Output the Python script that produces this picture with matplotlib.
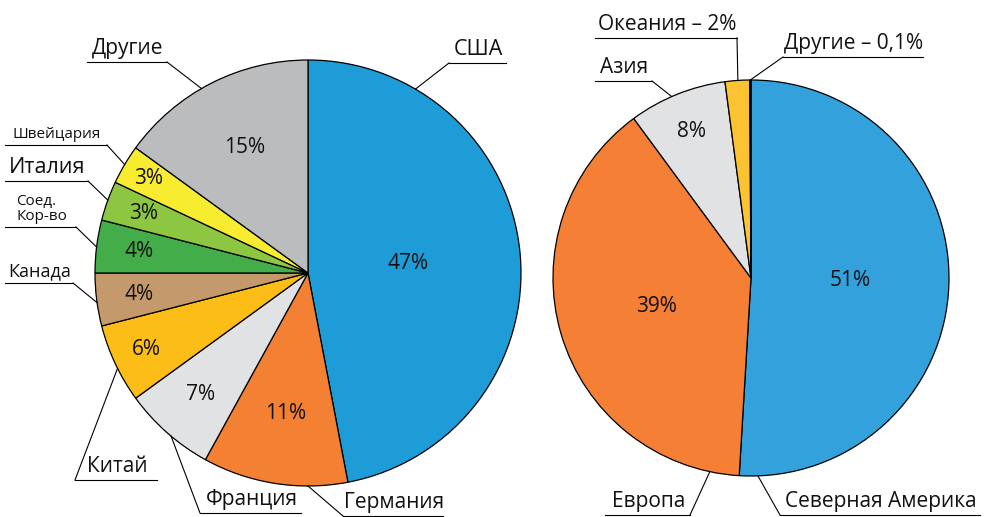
import numpy as np
import matplotlib.pyplot as plt

plt.rcParams['font.family'] = ['Open Sans', 'DejaVu Sans']

W, H = 985, 517

# left pie: countries
countries = ['США', 'Германия', 'Франция', 'Китай', 'Канада',
             'Соед.\nКор-во', 'Италия', 'Швейцария', 'Другие']
country_share = [47, 11, 7, 6, 4, 4, 3, 3, 15]
country_colors = ['#1e9cd8', '#f48033', '#e1e2e4', '#fcbd16', '#c49a6c',
                  '#43ad4a', '#8dc640', '#f8ec31', '#bbbcbe']
country_pct_r = [0.47, 0.67, 0.76, 0.84, 0.80, 0.80, 0.82, 0.87, 0.66]

# right pie: regions
regions = ['Северная Америка', 'Европа', 'Азия', 'Океания', 'Другие']
region_share = [51, 39, 8, 2, 0.1]
region_colors = ['#33a2dc', '#f47f35', '#e1e2e4', '#fdc231', '#a7a9ac']
region_pct_r = [0.50, 0.50, 0.80, None, None]

# callout layout: text, underline x0, x1, y (px from top), anchor angle,
# which underline end joins the leader, font size
left_callouts = [
    ('США', 449, 506, 63, 59.7, 'left', 15.5),
    ('Германия', 343, 443, 516, -90.0, 'left', 15),
    ('Франция', 200, 301, 513, -130.0, 'left', 15),
    ('Китай', 75, 157, 480, -153.4, 'left', 15),
    ('Канада', 5, 73, 283, -172.0, 'right', 13),
    ('Соед.\nКор-во', 5, 76, 227, 173.0, 'right', 11),
    ('Италия', 5, 88, 181, 160.0, 'right', 15.5),
    ('Швейцария', 5, 107, 145, 149.4, 'right', 11),
    ('Другие', 87, 167, 62, 120.0, 'right', 15),
]
right_callouts = [
    ('Северная Америка', 780, 980, 515, -88.0, 'left', 15),
    ('Европа', 605, 690, 515, -102.0, 'right', 15),
    ('Азия', 595, 652, 81, 113.6, 'right', 15),
    ('Океания – 2%', 595, 737, 38, 93.8, 'right', 15),
    ('Другие – 0,1%', 783, 923, 57, 90.2, 'left', 15),
]


def Y(y):
    return H - y


def draw_pie(ax, values, colors, center, radius, pct_r):
    wedges, _ = ax.pie(values, colors=colors, startangle=90, counterclock=False,
                       center=center, radius=radius, normalize=True,
                       wedgeprops=dict(edgecolor='black', linewidth=0.9))
    for w, v, r in zip(wedges, values, pct_r):
        if r is None:
            continue
        a = np.deg2rad((w.theta1 + w.theta2) / 2)
        ax.text(center[0] + r * radius * np.cos(a),
                center[1] + r * radius * np.sin(a),
                '{:d}%'.format(int(round(v))), ha='center', va='center',
                fontsize=15, color='#111111')


def draw_callouts(ax, callouts, center, radius):
    for text, x0, x1, y, ang, side, fs in callouts:
        a = np.deg2rad(ang)
        px = center[0] + radius * np.cos(a)
        py = center[1] + radius * np.sin(a)
        jx = x0 if side == 'left' else x1
        ax.plot([x0, x1], [Y(y), Y(y)], color='black', lw=0.8)
        ax.plot([jx, px], [Y(y), py], color='black', lw=0.8)
        ax.text((x0 + x1) / 2 + 1, Y(y) + 3, text, ha='center', va='bottom',
                multialignment='left', fontsize=fs, color='#111111',
                linespacing=1.0)


fig = plt.figure(figsize=(W / 100, H / 100), dpi=100)
ax = fig.add_axes([0, 0, 1, 1])

left_c, left_r = (308, Y(273)), 213
right_c, right_r = (751, Y(278)), 198

draw_pie(ax, country_share, country_colors, left_c, left_r, country_pct_r)
draw_pie(ax, region_share, region_colors, right_c, right_r, region_pct_r)
draw_callouts(ax, left_callouts, left_c, left_r)
draw_callouts(ax, right_callouts, right_c, right_r)

ax.set_xlim(0, W)
ax.set_ylim(0, H)
ax.set_aspect('auto')
ax.axis('off')

fig.savefig('out.png', dpi=100)
